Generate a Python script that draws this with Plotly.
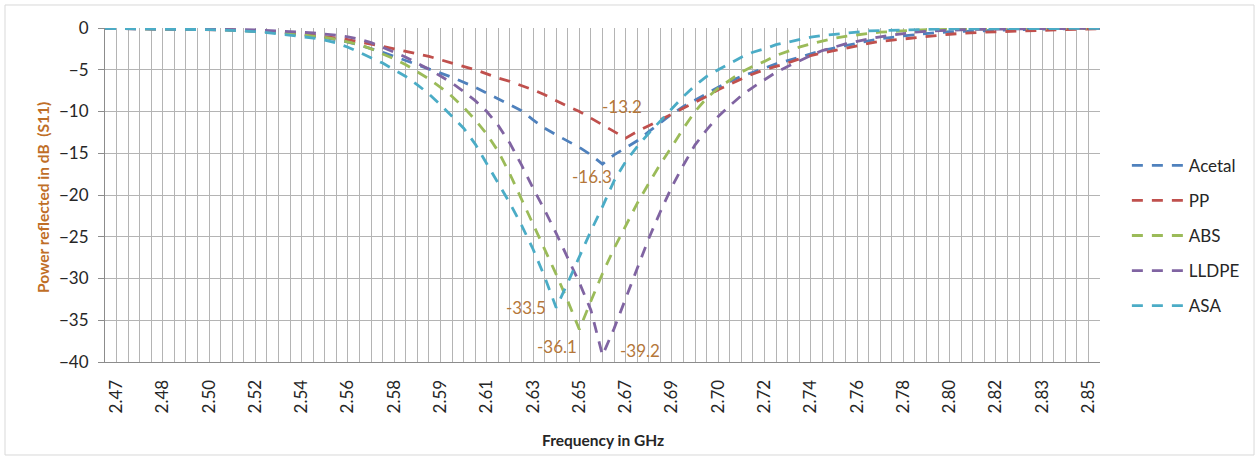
import plotly.graph_objects as go

# ---------------- data ----------------
tick_labels = ["2.47", "2.48", "2.50", "2.52", "2.54", "2.56", "2.58", "2.59",
               "2.61", "2.63", "2.65", "2.67", "2.69", "2.70", "2.72", "2.74",
               "2.76", "2.78", "2.80", "2.82", "2.83", "2.85"]

acetal = [-0.05, -0.06, -0.07, -0.08, -0.09, -0.10, -0.11, -0.13, -0.15, -0.18,
          -0.21, -0.25, -0.30, -0.37, -0.45, -0.55, -0.67, -0.80, -0.96, -1.15,
          -1.40, -1.70, -2.05, -2.45, -2.90, -3.40, -3.90, -4.40, -4.90, -5.40,
          -5.90, -6.50, -7.10, -7.80, -8.50, -9.20, -9.90, -11.00, -12.00, -12.80,
          -13.50, -14.30, -15.20, -16.30, -15.20, -14.40, -13.50, -12.40, -11.30, -10.30,
          -9.40, -8.60, -7.80, -7.10, -6.40, -5.80, -5.30, -4.80, -4.30, -3.90,
          -3.50, -3.10, -2.70, -2.40, -2.10, -1.80, -1.55, -1.30, -1.10, -0.95,
          -0.80, -0.65, -0.55, -0.45, -0.40, -0.35, -0.30, -0.25, -0.20, -0.17,
          -0.14, -0.12, -0.10, -0.09, -0.08, -0.07, -0.06]

pp = [-0.04, -0.05, -0.06, -0.07, -0.08, -0.09, -0.10, -0.12, -0.14, -0.17,
      -0.20, -0.24, -0.29, -0.35, -0.42, -0.50, -0.60, -0.72, -0.85, -1.00,
      -1.20, -1.40, -1.65, -1.90, -2.20, -2.50, -2.80, -3.10, -3.40, -3.80,
      -4.20, -4.60, -5.00, -5.50, -6.00, -6.40, -6.90, -7.40, -8.00, -8.70,
      -9.40, -10.00, -10.80, -11.70, -12.50, -13.20, -12.40, -11.70, -11.00, -10.30,
      -9.70, -9.00, -8.20, -7.40, -6.70, -6.10, -5.50, -5.00, -4.60, -4.20,
      -3.70, -3.30, -3.00, -2.70, -2.40, -2.10, -1.85, -1.60, -1.45, -1.30,
      -1.15, -1.00, -0.85, -0.75, -0.65, -0.55, -0.50, -0.45, -0.40, -0.35,
      -0.30, -0.25, -0.20, -0.15, -0.12, -0.10, -0.08]

abs_ = [-0.04, -0.05, -0.06, -0.07, -0.08, -0.09, -0.10, -0.12, -0.14, -0.17,
        -0.20, -0.25, -0.30, -0.36, -0.44, -0.53, -0.64, -0.77, -0.93, -1.12,
        -1.35, -1.65, -2.00, -2.50, -3.10, -3.70, -4.40, -5.20, -6.10, -7.10,
        -8.20, -9.50, -11.00, -12.70, -14.80, -17.50, -20.50, -23.40, -26.40, -29.50,
        -32.70, -36.10, -32.70, -29.40, -26.40, -23.60, -21.00, -18.60, -16.30, -14.20,
        -12.00, -10.00, -8.40, -7.20, -6.20, -5.30, -4.60, -4.00, -3.30, -2.80,
        -2.30, -1.90, -1.55, -1.25, -1.00, -0.80, -0.65, -0.50, -0.40, -0.32,
        -0.26, -0.21, -0.17, -0.14, -0.12, -0.10, -0.09, -0.08, -0.07, -0.06,
        -0.05, -0.05, -0.04, -0.04, -0.04, -0.04, -0.04]

lldpe = [-0.03, -0.04, -0.05, -0.05, -0.06, -0.07, -0.08, -0.09, -0.10, -0.12,
         -0.14, -0.17, -0.20, -0.24, -0.29, -0.35, -0.42, -0.50, -0.60, -0.72,
         -0.86, -1.05, -1.35, -1.75, -2.30, -2.90, -3.50, -4.20, -4.95, -5.75,
         -6.60, -7.60, -8.70, -10.00, -11.70, -13.80, -16.40, -19.20, -21.80, -24.60,
         -27.60, -30.50, -33.80, -39.20, -36.00, -32.40, -28.80, -25.20, -22.00, -19.00,
         -16.40, -14.00, -12.20, -10.60, -9.30, -8.10, -7.10, -6.20, -5.30, -4.60,
         -3.90, -3.30, -2.70, -2.30, -1.90, -1.60, -1.30, -1.05, -0.85, -0.65,
         -0.50, -0.40, -0.32, -0.26, -0.21, -0.17, -0.14, -0.12, -0.10, -0.09,
         -0.08, -0.07, -0.06, -0.06, -0.05, -0.05, -0.05]

asa = [-0.05, -0.06, -0.07, -0.08, -0.09, -0.10, -0.12, -0.14, -0.17, -0.20,
       -0.24, -0.29, -0.35, -0.43, -0.55, -0.70, -0.85, -1.00, -1.20, -1.45,
       -1.80, -2.30, -2.90, -3.50, -4.20, -5.00, -5.80, -6.80, -7.90, -9.20,
       -10.60, -12.00, -13.90, -16.30, -18.60, -21.00, -23.60, -26.50, -29.80, -33.50,
       -30.50, -27.30, -24.30, -21.40, -18.30, -16.00, -14.20, -12.60, -11.10, -9.70,
       -8.20, -6.90, -5.80, -5.00, -4.20, -3.50, -2.90, -2.50, -2.00, -1.70,
       -1.35, -1.10, -0.90, -0.75, -0.60, -0.45, -0.35, -0.30, -0.25, -0.20,
       -0.17, -0.15, -0.13, -0.11, -0.10, -0.09, -0.08, -0.07, -0.06, -0.06,
       -0.05, -0.05, -0.05, -0.04, -0.04, -0.04, -0.04]

series_names = ["Acetal", "PP", "ABS", "LLDPE", "ASA"]
series_values = [acetal, pp, abs_, lldpe, asa]
series_colors = ["#4F81BD", "#C0504D", "#9BBB59", "#8064A2", "#4BACC6"]
# offsets (px) of each minimum's data label from its point
label_shift = {"Acetal": (-11, -12), "PP": (-4, 32), "ABS": (-22, -17),
               "LLDPE": (37, 5), "ASA": (-30, 0)}

n_points = len(acetal)
x_idx = list(range(n_points))
label_pos = list(range(1, n_points, 4))[:len(tick_labels)]
tickmark_pos = list(range(2, n_points, 4))

FONT = "Lato, 'Open Sans', sans-serif"
LABEL_COLOR = "#B5773A"
GRID = "#B4B4B4"
AXIS = "#8C8C8C"

fig = go.Figure()
for name, vals, col in zip(series_names, series_values, series_colors):
    fig.add_trace(go.Scatter(
        x=x_idx, y=vals, mode="lines", name=name, legendgroup=name,
        line=dict(color=col, width=2.8, dash="11px,9px"),
        hoverinfo="skip"))

annotations = []
for name, vals in zip(series_names, series_values):
    m = min(vals)
    i = vals.index(m)
    dx, dy = label_shift[name]
    annotations.append(dict(
        x=i, y=m, xref="x", yref="y", text=f"{m:.1f}", showarrow=False,
        xshift=dx, yshift=dy, xanchor="center", yanchor="middle",
        font=dict(family=FONT, size=17, color=LABEL_COLOR)))

annotations.append(dict(
    x=0.5, y=-0.234, xref="paper", yref="paper", text="<b>Frequency in GHz</b>",
    showarrow=False, xanchor="center", yanchor="middle",
    font=dict(family=FONT, size=15.5, color="#262626")))
annotations.append(dict(
    x=-0.0623, y=0.491, xref="paper", yref="paper",
    text="<b>Power reflected in dB  (S11)</b>", textangle=-90,
    showarrow=False, xanchor="center", yanchor="middle",
    font=dict(family=FONT, size=15.5, color="#BF6E27")))

fig.update_layout(
    width=1259, height=460,
    margin=dict(l=105, r=159, t=28, b=98),
    paper_bgcolor="white", plot_bgcolor="white",
    font=dict(family=FONT, size=17, color="#262626"),
    showlegend=True,
    legend=dict(x=1.027, y=0.378, xanchor="left", yanchor="middle",
                font=dict(family=FONT, size=17, color="#262626"),
                itemwidth=52, tracegroupgap=10, bgcolor="rgba(0,0,0,0)"),
    annotations=annotations,
    xaxis=dict(range=[0, n_points - 1], tickmode="array", tickvals=label_pos,
               ticktext=tick_labels, tickangle=-90, ticks="", showgrid=False,
               zeroline=False, showline=True, linecolor=AXIS, linewidth=1,
               ticklabelstandoff=10,
               tickfont=dict(family=FONT, size=17, color="#262626"),
               minor=dict(tick0=0, dtick=1, showgrid=True, gridcolor=GRID,
                          gridwidth=1, ticks="")),
    xaxis2=dict(range=[0, n_points - 1], overlaying="x", anchor="y", side="bottom",
                tickmode="array", tickvals=tickmark_pos, ticks="outside",
                ticklen=6, tickcolor=AXIS, showticklabels=False, showgrid=False,
                zeroline=False, showline=False),
    yaxis=dict(range=[-40, 0], dtick=5, tick0=0, showgrid=True, gridcolor=GRID,
               gridwidth=1, zeroline=False, showline=True, linecolor=AXIS,
               linewidth=1, ticks="outside", ticklen=6, tickcolor=AXIS,
               ticklabelstandoff=6,
               tickfont=dict(family=FONT, size=17, color="#262626")),
    shapes=[dict(type="rect", xref="paper", yref="paper",
                 x0=-0.1005, x1=1.1548, y0=-0.2784, y1=1.0689,
                 line=dict(color="#D9D9D9", width=1), fillcolor="rgba(0,0,0,0)",
                 layer="below")],
)

fig.write_html("out.html")
